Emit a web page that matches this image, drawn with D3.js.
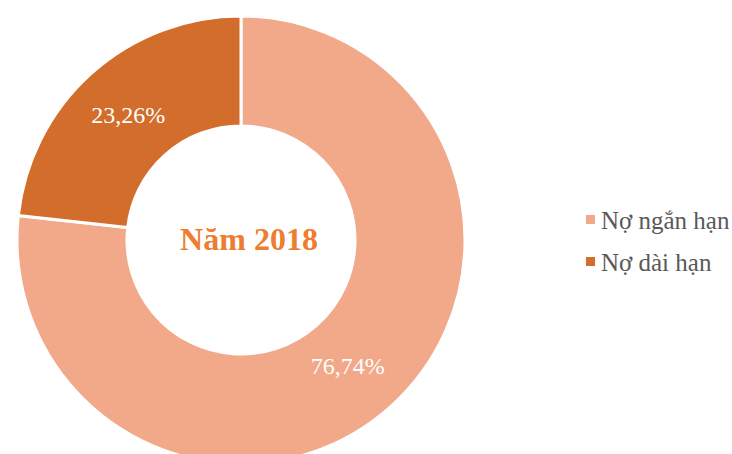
<!DOCTYPE html>
<html><head><meta charset="utf-8">
<script src="https://cdn.jsdelivr.net/npm/d3@7"></script>
<style>body{margin:0;background:#fff}svg{display:block}</style>
</head><body>
<script>
const categories = ["Nợ ngắn hạn", "Nợ dài hạn"];
const values = [76.74, 23.26];
const labels = ["76,74%", "23,26%"];
const colors = ["#F1A98A", "#D26D2B"];
const title = "Năm 2018";

const W = 732, H = 454;
const FONT = "'Liberation Serif','Times New Roman','DejaVu Serif',serif";
const svg = d3.select("body").append("svg").attr("width", W).attr("height", H);
const cx = 241, cy = 240, outerR = 224, innerR = 114;
const g = svg.append("g").attr("transform", `translate(${cx},${cy})`);
const pie = d3.pie().sort(null).value(d => d)(values);
const arc = d3.arc().innerRadius(innerR).outerRadius(outerR);
const color = d3.scaleOrdinal().domain(categories).range(colors);

g.selectAll("path").data(pie).join("path")
  .attr("d", arc)
  .attr("fill", (d, i) => color(categories[i]))
  .attr("stroke", "#fff").attr("stroke-width", 3);

g.selectAll("text.lbl").data(pie).join("text").attr("class", "lbl")
  .attr("transform", d => { const c = arc.centroid(d); return `translate(${c[0] - (d.index === 0 ? 6 : 0)},${c[1]})`; })
  .attr("text-anchor", "middle").attr("dy", "0.35em")
  .attr("font-family", FONT)
  .attr("font-size", 24).attr("fill", "#fff")
  .text((d, i) => labels[i]);

svg.append("text").attr("x", 249).attr("y", 250).attr("text-anchor", "middle")
  .attr("font-family", FONT)
  .attr("font-weight", "bold").attr("font-size", 32).attr("fill", "#ED7D31")
  .text(title);

const leg = svg.append("g");
categories.forEach((c, i) => {
  const y = 220 + i * 42;
  leg.append("rect").attr("x", 586).attr("y", y - 5).attr("width", 9).attr("height", 9).attr("fill", color(c));
  leg.append("text").attr("x", 601).attr("y", y).attr("dy", "0.35em")
    .attr("font-family", FONT)
    .attr("font-size", 25).attr("fill", "#595959").text(c);
});
</script>
</body></html>
